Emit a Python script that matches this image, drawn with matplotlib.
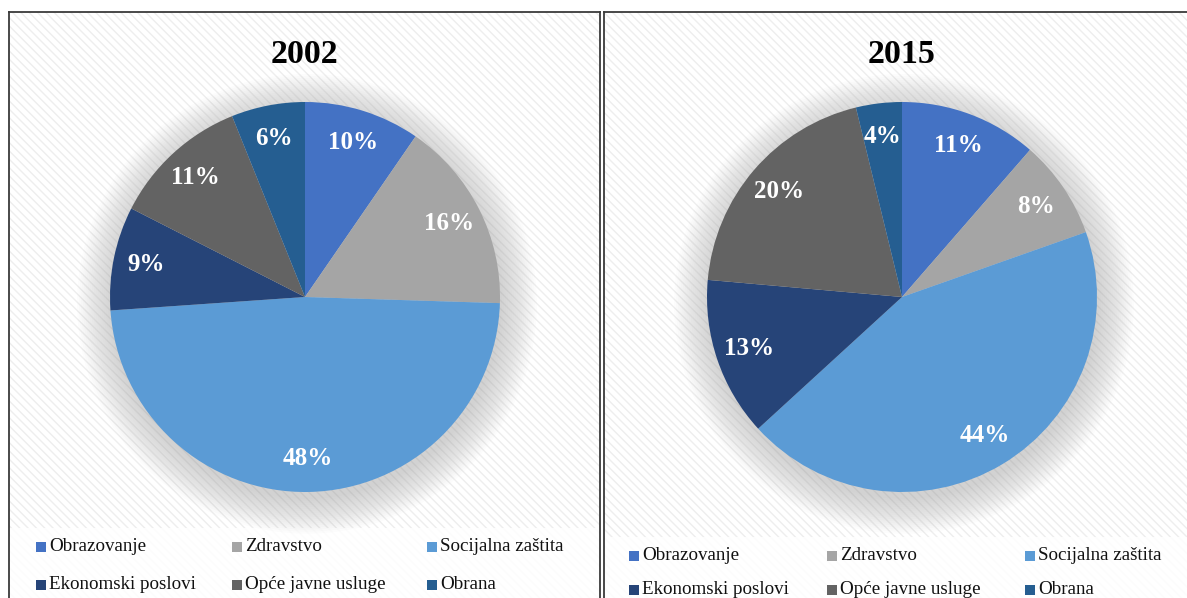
import matplotlib
matplotlib.use("Agg")
import matplotlib.pyplot as plt
from matplotlib.patches import Rectangle, Circle

W, H = 1187, 598
DPI = 100

categories = ["Obrazovanje", "Zdravstvo", "Socijalna zaštita",
              "Ekonomski poslovi", "Opće javne usluge", "Obrana"]
colors = ["#4472C4", "#A5A5A5", "#5B9BD5", "#264478", "#636363", "#255E91"]
years = ["2002", "2015"]
shares_2002 = [9.6, 15.9, 48.4, 8.6, 11.4, 6.1]
shares_2015 = [11.4, 8.2, 43.6, 13.2, 19.8, 3.8]

SERIF = "Liberation Serif"
R = 195  # pie radius in px

fig = plt.figure(figsize=(W / DPI, H / DPI), dpi=DPI)
fig.patch.set_facecolor("white")


def draw_panel(left, right, title, values, cx, cy, leg_top, rows_y, cols_x, last):
    # panel background with diagonal stripes, coords in pixels
    bg = fig.add_axes([left / W, 0, (right - left) / W, 1 - 12 / H])
    bg.set_xlim(left, right)
    bg.set_ylim(H, 12)
    bg.set_xticks([])
    bg.set_yticks([])
    bg.add_patch(Rectangle((left, 12), right - left, H - 12, facecolor="white",
                           edgecolor="#EEEEEE", hatch="\\\\\\\\", linewidth=0, zorder=0))
    for s in bg.spines.values():
        s.set_color("#3A3A3A")
        s.set_linewidth(1.3)
    bg.spines["bottom"].set_visible(False)
    if last:
        bg.spines["right"].set_visible(False)

    # legend band
    bg.add_patch(Rectangle((left, leg_top), right - left, H - leg_top,
                           facecolor="white", alpha=0.85, linewidth=0, zorder=1))
    for i, (lab, col) in enumerate(zip(categories, colors)):
        x = cols_x[i % 3]
        y = rows_y[i // 3]
        bg.add_patch(Rectangle((x, y - 4.5), 9.5, 9.5, facecolor=col, linewidth=0, zorder=2))
        bg.text(x + 13, y, lab, va="center", ha="left", fontsize=13.7,
                family=SERIF, color="#111111", zorder=3)

    bg.text(cx, 63, title, ha="center", va="baseline", fontsize=24.5,
            fontweight="bold", family=SERIF, color="black")

    # pie
    lim = 1.3
    side = 2 * lim * R
    ax = fig.add_axes([(cx - side / 2) / W, 1 - (cy + side / 2) / H, side / W, side / H])
    ax.patch.set_visible(False)
    for k in range(18):
        ax.add_patch(Circle((0.01, -0.035), 1.0 + 0.0105 * k, facecolor="#7F7F7F",
                            alpha=0.02, linewidth=0, zorder=0))
    wedges, texts, autotexts = ax.pie(
        values, colors=colors, startangle=90, counterclock=False, radius=1,
        autopct="%.0f%%", pctdistance=0.83,
        wedgeprops=dict(linewidth=0),
        textprops=dict(color="white", fontsize=18, fontweight="bold", family=SERIF))
    ax.set_xlim(-lim, lim)
    ax.set_ylim(-lim, lim)
    ax.set_aspect("equal")
    ax.set_axis_off()


draw_panel(9.5, 599.5, years[0], shares_2002, 305, 297, 528,
           [546.5, 584.5], [36, 232, 427], False)
draw_panel(603.5, W + 2, years[1], shares_2015, 902, 297, 537,
           [555.5, 589.5], [629, 827, 1025], True)

fig.savefig("out.png", dpi=DPI, facecolor="white")
